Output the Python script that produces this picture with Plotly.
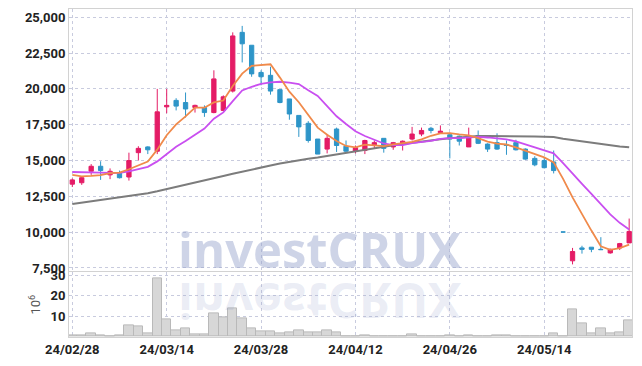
import plotly.graph_objects as go

dates = ["24/02/28","24/02/29","24/03/04","24/03/05","24/03/06","24/03/07","24/03/08","24/03/11","24/03/12","24/03/13",
         "24/03/14","24/03/15","24/03/18","24/03/19","24/03/20","24/03/21","24/03/22","24/03/25","24/03/26","24/03/27",
         "24/03/28","24/03/29","24/04/01","24/04/02","24/04/03","24/04/04","24/04/05","24/04/08","24/04/09","24/04/11",
         "24/04/12","24/04/15","24/04/16","24/04/17","24/04/18","24/04/19","24/04/22","24/04/23","24/04/24","24/04/25",
         "24/04/26","24/04/29","24/04/30","24/05/02","24/05/03","24/05/07","24/05/08","24/05/09","24/05/10","24/05/13",
         "24/05/14","24/05/16","24/05/17","24/05/20","24/05/21","24/05/22","24/05/23","24/05/24","24/05/27","24/05/28"]

open_ = [13350,13450,14250,14600,14000,14150,13850,15550,15950,15650,
         18750,19200,19050,18700,18700,18350,18500,19850,23950,23050,
         21150,20950,19950,19300,18150,17600,16500,15800,17200,16000,
         15650,15700,16100,16550,15950,16150,16500,16850,17250,16950,
         16800,16700,15950,16750,16150,16250,16100,16250,15800,15150,
         15000,14900,10010,8000,8900,8950,8800,8550,8900,9250]
high = [13750,13900,14750,14950,14450,14300,15550,16000,16000,20000,
        20000,19350,19750,18900,18850,21300,19550,23950,24400,23050,
        21300,21550,19950,19300,18150,17750,16500,16850,17300,16400,
        16050,16450,16400,16550,16300,16400,17350,17300,17350,17450,
        16950,16750,17300,17100,16200,16900,16400,16450,15850,15300,
        15250,15700,10010,8900,9050,8950,9650,8850,9250,10950]
low = [13150,13300,14000,13650,13700,13750,13600,15000,15450,15450,
       18300,18500,18000,18350,18050,18300,18450,19750,21850,20850,
       20250,19600,19000,17850,16650,16250,15450,15500,15600,15600,
       15500,15450,15850,15550,15750,15700,16400,16700,16900,16900,
       15150,16050,15950,16150,15600,15750,15400,15700,15050,14600,
       14450,14100,10010,7750,8500,8600,8750,8500,8750,9250]
close = [13650,13800,14600,14300,14250,13800,15000,15850,15750,18400,
         18850,18800,18600,18850,18350,20700,19450,23700,23150,21050,
         20850,19850,19050,18250,17350,16400,15450,16550,16050,15650,
         15900,16400,16250,15850,16250,16350,16850,17100,17100,17050,
         16500,16350,16750,16200,15800,15800,16050,15750,15100,14700,
         14500,14300,10010,8650,8800,8800,8780,8800,9200,10050]

volume_m = [0.3,0.7,1.6,0.7,0.2,0.7,5.5,5.0,1.7,28.4,
            8.1,3.1,4.1,1.2,1.2,11.4,9.5,13.8,9.0,4.0,
            2.5,2.5,1.6,2.1,3.1,2.1,2.1,3.1,2.1,0.1,
            0.1,0.5,0.1,0.1,0.1,0.1,0.9,0.2,0.2,0.2,
            0.6,0.1,0.6,0.1,0.1,0.4,0.4,0.1,0.1,0.1,
            0.1,1.6,0.1,13.4,6.5,1.6,4.0,1.6,2.1,8.0]

ma5 = [14000,13900,13930,13980,14120,14150,14390,14640,14930,15760,
       16770,17530,18080,18700,18690,19060,19190,20210,21070,21610,
       21640,21720,20790,19810,19070,18180,17300,16800,16360,16020,
       15920,16110,16050,16010,16130,16220,16310,16480,16730,16890,
       16920,16820,16750,16570,16320,16180,16120,15920,15700,15480,
       15220,14870,13720,12430,11250,10110,9010,8770,8880,9130]

ma10 = [14200,14200,14180,14150,14130,14140,14250,14400,14560,14940,
        15460,15960,16360,16820,17230,17920,18360,19150,19890,20150,
        20350,20460,20500,20440,20340,19910,19510,18800,18090,17550,
        17050,16710,16430,16190,16080,16070,16210,16270,16370,16510,
        16570,16570,16620,16650,16610,16550,16470,16340,16140,15900,
        15700,15500,14820,14070,13370,12670,11940,11240,10650,10190]

ma_long = [11965,12056,12147,12238,12328,12433,12531,12622,12720,12853,
           13000,13147,13287,13448,13601,13762,13923,14077,14231,14378,
           14518,14651,14790,14909,15021,15126,15210,15322,15427,15532,
           15637,15749,15854,15966,16070,16161,16252,16343,16420,16490,
           16560,16620,16700,16720,16720,16720,16710,16700,16690,16680,
           16660,16640,16525,16433,16329,16224,16126,16049,15979,15930]

price_ticks = [7500, 10000, 12500, 15000, 17500, 20000, 22500, 25000]
vol_ticks = [10, 20, 30]
x_tick_idx = [0, 10, 20, 30, 40, 50]
x_ticks = [dates[i] for i in x_tick_idx]

RED = "#e41c66"
BLUE = "#2e95c8"
GRID = "rgb(200,203,222)"
AXL = "#d2d2d2"
FONT = "Roboto, sans-serif"
TICKFONT = dict(family=FONT, size=13, color="#222222", weight="bold")

fig = go.Figure()
fig.add_trace(go.Candlestick(
    x=dates, open=open_, high=high, low=low, close=close,
    increasing=dict(line=dict(color=RED, width=1), fillcolor=RED),
    decreasing=dict(line=dict(color=BLUE, width=1), fillcolor=BLUE),
    whiskerwidth=0, xaxis="x", yaxis="y", showlegend=False, hoverinfo="skip"))
fig.add_trace(go.Scatter(x=dates, y=ma_long, mode="lines", line=dict(color="#7c7c7c", width=2),
                         xaxis="x", yaxis="y", showlegend=False, hoverinfo="skip"))
fig.add_trace(go.Scatter(x=dates, y=ma10, mode="lines", line=dict(color="#c94ff0", width=1.8),
                         xaxis="x", yaxis="y", showlegend=False, hoverinfo="skip"))
fig.add_trace(go.Scatter(x=dates, y=ma5, mode="lines", line=dict(color="#f08a4b", width=1.8),
                         xaxis="x", yaxis="y", showlegend=False, hoverinfo="skip"))
fig.add_trace(go.Bar(x=dates, y=volume_m,
                     marker=dict(color="#d7d7d7", line=dict(color="#b9b9b9", width=1)),
                     xaxis="x2", yaxis="y2", showlegend=False, hoverinfo="skip"))

xr = [-0.35, 59.3]
common_x = dict(type="category", range=xr, tickvals=x_ticks, showgrid=True, gridcolor=GRID,
                griddash="dot", gridwidth=1, showline=True, mirror=True, linecolor=AXL,
                linewidth=1, ticks="", zeroline=False, automargin=False)
common_y = dict(showgrid=True, gridcolor=GRID, griddash="dot", gridwidth=1, showline=True,
                mirror=True, linecolor=AXL, linewidth=1, ticks="", zeroline=False,
                automargin=False)

fig.update_layout(
    width=642, height=366,
    margin=dict(l=69, r=10, t=9, b=29),
    paper_bgcolor="white", plot_bgcolor="white",
    showlegend=False, bargap=0, boxgap=0.35,
    xaxis=dict(**common_x, domain=[0, 1], anchor="y", showticklabels=False,
               rangeslider=dict(visible=False)),
    xaxis2=dict(**common_x, domain=[0, 1], anchor="y2", showticklabels=True,
                ticktext=x_ticks, tickfont=TICKFONT),
    yaxis=dict(**common_y, domain=[0.2, 1.0], range=[7260, 25580], tickvals=price_ticks,
               tickformat=",", tickfont=TICKFONT),
    yaxis2=dict(**common_y, domain=[0, 0.197], range=[-0.3, 31.4], tickvals=vol_ticks,
                tickfont=TICKFONT,
                title=dict(text="10<sup>6</sup>", standoff=6,
                           font=dict(family="Roboto, sans-serif", size=13, color="#555555"))),
    annotations=[
        dict(text="investCRUX", xref="paper", yref="paper", x=0.445, y=0.161,
             showarrow=False, font=dict(family="Open Sans", size=49, weight="bold",
                                        color="rgba(150,164,205,0.47)")),
        dict(text="investCRUX", xref="paper", yref="paper", x=0.445, y=0.0,
             showarrow=False, font=dict(family="Open Sans", size=49, weight="bold",
                                        color="rgba(150,164,205,0.2)")),
    ],
)

post = """
document.documentElement.style.margin = '0';
document.body.style.margin = '0';
document.body.style.padding = '0';
var gd = document.getElementById('{plot_id}');
function flipRefl() {
  var t = gd.querySelector('g.annotation[data-index="1"] text.annotation-text');
  if (t) {
    t.style.transformBox = 'fill-box';
    t.style.transformOrigin = 'center';
    t.style.transform = 'scaleY(-1)';
  }
}
flipRefl();
if (gd.on) { gd.on('plotly_afterplot', flipRefl); }
setTimeout(flipRefl, 50);
setTimeout(flipRefl, 300);
"""

fig.write_html("out.html", post_script=post, config={"displayModeBar": False})
